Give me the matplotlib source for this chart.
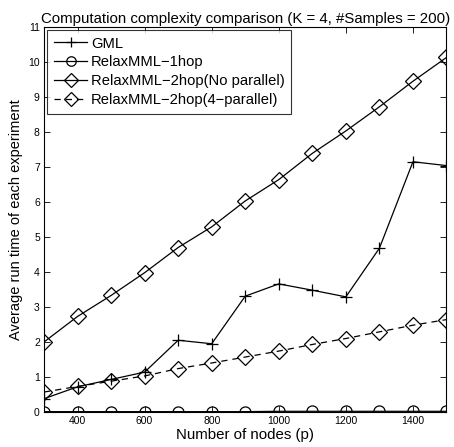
import matplotlib
matplotlib.use("Agg")
import matplotlib.pyplot as plt

plt.rcParams['font.family'] = ['Liberation Sans', 'DejaVu Sans']

nodes = [300, 400, 500, 600, 700, 800, 900, 1000, 1100, 1200, 1300, 1400, 1500]
gml = [0.38, 0.72, 0.93, 1.14, 2.05, 1.95, 3.31, 3.66, 3.48, 3.29, 4.68, 7.15, 7.04]
relax_1hop = [0.01, 0.01, 0.01, 0.01, 0.01, 0.01, 0.01, 0.02, 0.02, 0.02, 0.02, 0.02, 0.02]
relax_2hop = [2.0, 2.73, 3.33, 3.98, 4.70, 5.29, 6.03, 6.64, 7.39, 8.03, 8.72, 9.45, 10.13]
relax_2hop_par = [0.57, 0.73, 0.88, 1.03, 1.24, 1.40, 1.57, 1.74, 1.93, 2.10, 2.29, 2.48, 2.64]

labels = ['GML', 'RelaxMML\u22121hop', 'RelaxMML\u22122hop(No parallel)',
          'RelaxMML\u22122hop(4\u2212parallel)']
xticks = [400, 600, 800, 1000, 1200, 1400]
yticks = list(range(0, 12))

fig = plt.figure(figsize=(4.54, 4.47), dpi=100)
ax = fig.add_axes([44 / 454, 35 / 447, 402.5 / 454, 385 / 447])

lw = 0.9
ax.plot(nodes, gml, color='black', lw=lw, marker='+', ms=9, mew=0.9, label=labels[0])
ax.plot(nodes, relax_1hop, color='black', lw=lw, marker='o', ms=8, mfc='none', mew=0.9,
        label=labels[1])
ax.plot(nodes, relax_2hop, color='black', lw=lw, marker='D', ms=8.5, mfc='none', mew=0.9,
        label=labels[2])
ax.plot(nodes, relax_2hop_par, color='black', lw=lw, ls=(0, (5, 4)), marker='D', ms=8.5,
        mfc='none', mew=0.9, label=labels[3])

ax.set_xlim(300, 1500)
ax.set_ylim(0, 11)
ax.set_xticks(xticks)
ax.set_yticks(yticks)
ax.tick_params(direction='in', top=True, right=True, labelsize=7.5, length=4, width=0.6,
               pad=3)
for s in ax.spines.values():
    s.set_linewidth(0.8)

ax.set_title('Computation complexity comparison (K = 4, #Samples = 200)', fontsize=10.8, pad=3)
ax.set_xlabel('Number of nodes (p)', fontsize=10.8, labelpad=1)
ax.set_ylabel('Average run time of each experiment', fontsize=10.5, labelpad=4)

leg = ax.legend(loc='upper left', fontsize=10.6, frameon=True, fancybox=False,
                edgecolor='black', handlelength=2.3, handletextpad=0.25,
                borderaxespad=0.2, borderpad=0.45, labelspacing=0.33, markerscale=0.85)
leg.get_frame().set_linewidth(0.8)

fig.savefig('out.png', dpi=100)
